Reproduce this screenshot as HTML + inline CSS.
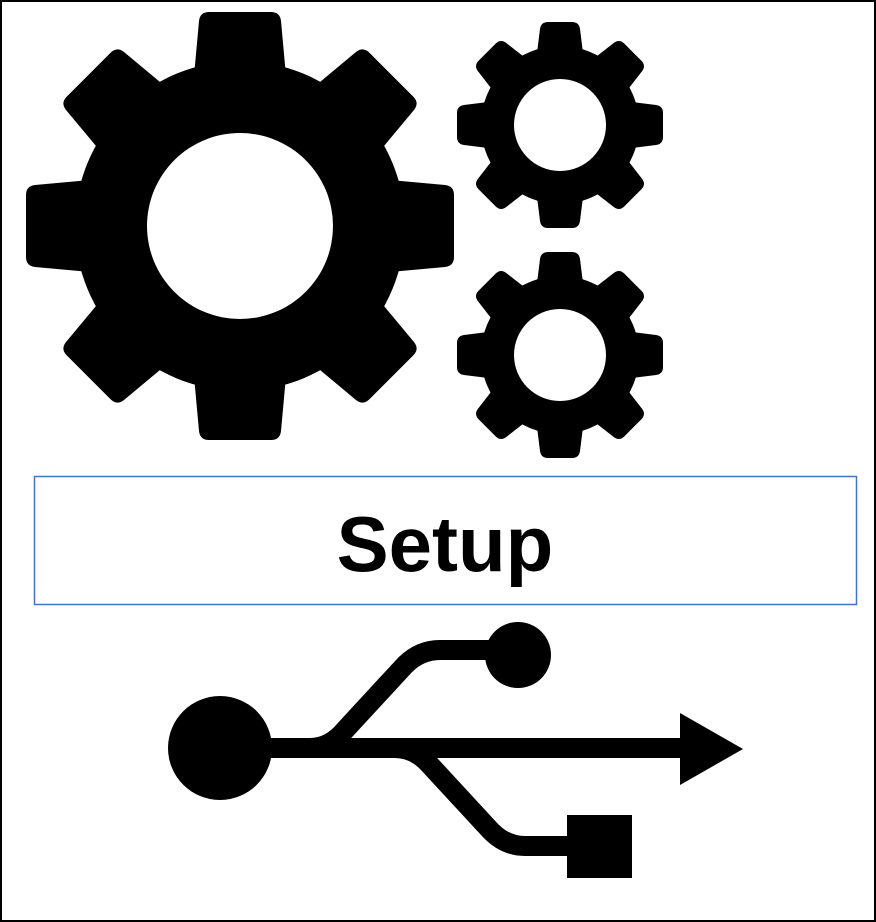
<!DOCTYPE html>
<html><head><style>
html,body{margin:0;padding:0;background:#fff;}
body{width:876px;height:922px;overflow:hidden;position:relative;}
</style></head><body>
<svg width="876" height="922" viewBox="0 0 876 922" style="position:absolute;left:0;top:0">
<defs>
<g id="bigTooth"><path d="M-46,-150 L-41,-205 Q-40,-214 -31,-214 L31,-214 Q40,-214 41,-205 L46,-150 Z"/></g>
<g id="smTooth"><path d="M-23,-72 L-20,-96 Q-19,-103 -12,-103 L12,-103 Q19,-103 20,-96 L23,-72 Z"/></g>
</defs>
<rect x="1" y="1" width="874" height="920" fill="#fff" stroke="#000" stroke-width="2"/>
<g transform="translate(240,226)" fill="#000">
<circle r="165"/>
<use href="#bigTooth"/><use href="#bigTooth" transform="rotate(45)"/><use href="#bigTooth" transform="rotate(90)"/><use href="#bigTooth" transform="rotate(135)"/>
<use href="#bigTooth" transform="rotate(180)"/><use href="#bigTooth" transform="rotate(225)"/><use href="#bigTooth" transform="rotate(270)"/><use href="#bigTooth" transform="rotate(315)"/>
<circle r="93" fill="#fff"/>
</g>
<g transform="translate(560,125)" fill="#000">
<circle r="79"/>
<use href="#smTooth"/><use href="#smTooth" transform="rotate(45)"/><use href="#smTooth" transform="rotate(90)"/><use href="#smTooth" transform="rotate(135)"/>
<use href="#smTooth" transform="rotate(180)"/><use href="#smTooth" transform="rotate(225)"/><use href="#smTooth" transform="rotate(270)"/><use href="#smTooth" transform="rotate(315)"/>
<circle r="46" fill="#fff"/>
</g>
<g transform="translate(560,355)" fill="#000">
<circle r="79"/>
<use href="#smTooth"/><use href="#smTooth" transform="rotate(45)"/><use href="#smTooth" transform="rotate(90)"/><use href="#smTooth" transform="rotate(135)"/>
<use href="#smTooth" transform="rotate(180)"/><use href="#smTooth" transform="rotate(225)"/><use href="#smTooth" transform="rotate(270)"/><use href="#smTooth" transform="rotate(315)"/>
<circle r="46" fill="#fff"/>
</g>
<rect x="34.5" y="476.5" width="822" height="128" fill="#fff" stroke="#4472c4" stroke-width="1.5"/>
<text x="445" y="571" text-anchor="middle" font-family="Liberation Sans, sans-serif" font-weight="bold" font-size="78" fill="#000">Setup</text>
<g fill="#000" stroke="#000">
<circle cx="220" cy="748" r="52" stroke="none"/>
<line x1="260" y1="748" x2="690" y2="748" stroke-width="20"/>
<polygon points="680,713 743,749 680,785" stroke="none"/>
<path d="M310,748 Q330,748 345,730 L405,665 Q420,650 440,650 L505,650" fill="none" stroke-width="20"/>
<circle cx="518" cy="655" r="33" stroke="none"/>
<path d="M395,748 Q415,748 430,765 L490,830 Q505,846 525,846 L580,846" fill="none" stroke-width="20"/>
<rect x="567" y="815" width="65" height="63" stroke="none"/>
</g>
</svg>
</body></html>
